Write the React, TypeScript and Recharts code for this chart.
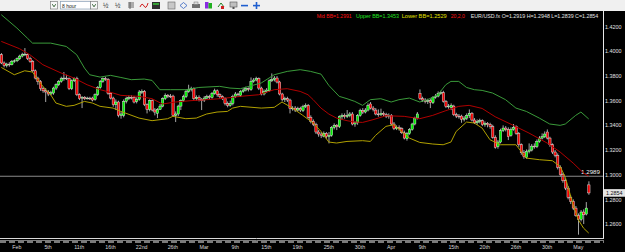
import React from 'react';
import { ComposedChart, Bar, Line, XAxis, YAxis, ReferenceLine } from 'recharts';

// EUR/USD.fx, 8 hour candles (late Jan - May 2010)
const opens = [
  1.3973, 1.3906, 1.3887, 1.3897, 1.3892, 1.3919, 1.3924, 1.3941, 1.3962, 1.3973,
  1.3973, 1.3941, 1.3919, 1.3843, 1.3784, 1.3757, 1.3698, 1.3681, 1.3671, 1.3655,
  1.3663, 1.3703, 1.3730, 1.3757, 1.3779, 1.3784, 1.3779, 1.3698, 1.3762, 1.3779,
  1.3649, 1.3622, 1.3628, 1.3617, 1.3622, 1.3622, 1.3611, 1.3649, 1.3708, 1.3757,
  1.3779, 1.3773, 1.3660, 1.3622, 1.3568, 1.3590, 1.3482, 1.3482, 1.3595, 1.3617,
  1.3628, 1.3628, 1.3595, 1.3611, 1.3671, 1.3676, 1.3568, 1.3530, 1.3601, 1.3525,
  1.3498, 1.3530, 1.3557, 1.3617, 1.3644, 1.3638, 1.3638, 1.3482, 1.3493, 1.3557,
  1.3601, 1.3633, 1.3676, 1.3692, 1.3698, 1.3617, 1.3628, 1.3611, 1.3606, 1.3622,
  1.3633, 1.3628, 1.3660, 1.3681, 1.3649, 1.3633, 1.3617, 1.3579, 1.3563, 1.3579,
  1.3633, 1.3655, 1.3644, 1.3676, 1.3687, 1.3698, 1.3692, 1.3757, 1.3768, 1.3779,
  1.3703, 1.3655, 1.3676, 1.3681, 1.3762, 1.3773, 1.3784, 1.3752, 1.3655, 1.3611,
  1.3617, 1.3606, 1.3536, 1.3541, 1.3525, 1.3536, 1.3520, 1.3552, 1.3563, 1.3466,
  1.3433, 1.3406, 1.3347, 1.3331, 1.3314, 1.3336, 1.3309, 1.3320, 1.3385, 1.3401,
  1.3390, 1.3471, 1.3482, 1.3471, 1.3482, 1.3493, 1.3412, 1.3422, 1.3482, 1.3520,
  1.3509, 1.3525, 1.3574, 1.3541, 1.3525, 1.3493, 1.3487, 1.3498, 1.3487, 1.3476,
  1.3482, 1.3412, 1.3374, 1.3385, 1.3374, 1.3341, 1.3293, 1.3336, 1.3368, 1.3412,
  1.3460, 1.3660, 1.3617, 1.3606, 1.3595, 1.3601, 1.3585, 1.3628, 1.3638, 1.3660,
  1.3665, 1.3595, 1.3552, 1.3547, 1.3557, 1.3487, 1.3476, 1.3476, 1.3449, 1.3460,
  1.3482, 1.3498, 1.3444, 1.3422, 1.3433, 1.3439, 1.3406, 1.3417, 1.3406, 1.3390,
  1.3304, 1.3228, 1.3266, 1.3358, 1.3379, 1.3368, 1.3320, 1.3368, 1.3390, 1.3336,
  1.3244, 1.3179, 1.3142, 1.3190, 1.3201, 1.3233, 1.3228, 1.3271, 1.3298, 1.3309,
  1.3347, 1.3298, 1.3244, 1.3185, 1.3158, 1.3061, 1.3001, 1.2953, 1.2893, 1.2818,
  1.2785, 1.2731, 1.2672, 1.2640, 1.2699, 1.2683, 1.2919,
];

const highs = [
  1.3986, 1.3919, 1.3908, 1.3913, 1.3930, 1.3935, 1.3951, 1.3973, 1.3989, 1.4027,
  1.3984, 1.3957, 1.3930, 1.3854, 1.3795, 1.3768, 1.3714, 1.3703, 1.3687, 1.3681,
  1.3714, 1.3741, 1.3768, 1.3795, 1.3833, 1.3811, 1.3789, 1.3773, 1.3789, 1.3795,
  1.3660, 1.3638, 1.3638, 1.3633, 1.3633, 1.3633, 1.3660, 1.3719, 1.3768, 1.3789,
  1.3795, 1.3784, 1.3671, 1.3633, 1.3611, 1.3601, 1.3514, 1.3611, 1.3633, 1.3644,
  1.3644, 1.3638, 1.3628, 1.3687, 1.3692, 1.3687, 1.3579, 1.3611, 1.3611, 1.3541,
  1.3541, 1.3574, 1.3628, 1.3660, 1.3655, 1.3655, 1.3649, 1.3514, 1.3568, 1.3611,
  1.3649, 1.3692, 1.3730, 1.3714, 1.3708, 1.3644, 1.3644, 1.3622, 1.3638, 1.3649,
  1.3649, 1.3671, 1.3698, 1.3692, 1.3660, 1.3644, 1.3628, 1.3595, 1.3601, 1.3649,
  1.3671, 1.3665, 1.3687, 1.3703, 1.3714, 1.3708, 1.3789, 1.3784, 1.3795, 1.3789,
  1.3714, 1.3692, 1.3703, 1.3773, 1.3822, 1.3800, 1.3800, 1.3762, 1.3665, 1.3633,
  1.3633, 1.3617, 1.3557, 1.3557, 1.3552, 1.3552, 1.3568, 1.3579, 1.3574, 1.3482,
  1.3449, 1.3422, 1.3363, 1.3347, 1.3352, 1.3347, 1.3347, 1.3395, 1.3417, 1.3412,
  1.3482, 1.3498, 1.3498, 1.3525, 1.3509, 1.3509, 1.3433, 1.3493, 1.3536, 1.3541,
  1.3541, 1.3579, 1.3590, 1.3557, 1.3541, 1.3530, 1.3536, 1.3514, 1.3503, 1.3498,
  1.3493, 1.3428, 1.3401, 1.3401, 1.3385, 1.3358, 1.3347, 1.3379, 1.3422, 1.3471,
  1.3509, 1.3692, 1.3633, 1.3622, 1.3617, 1.3617, 1.3638, 1.3655, 1.3676, 1.3681,
  1.3681, 1.3606, 1.3574, 1.3579, 1.3568, 1.3503, 1.3493, 1.3487, 1.3476, 1.3498,
  1.3530, 1.3509, 1.3460, 1.3449, 1.3455, 1.3449, 1.3433, 1.3428, 1.3422, 1.3406,
  1.3320, 1.3282, 1.3374, 1.3401, 1.3395, 1.3385, 1.3385, 1.3412, 1.3401, 1.3347,
  1.3255, 1.3201, 1.3206, 1.3255, 1.3250, 1.3255, 1.3287, 1.3314, 1.3336, 1.3352,
  1.3368, 1.3309, 1.3255, 1.3201, 1.3174, 1.3077, 1.3017, 1.2969, 1.2910, 1.2834,
  1.2802, 1.2748, 1.2688, 1.2715, 1.2721, 1.2780, 1.2948,
];

const lows = [
  1.3897, 1.3870, 1.3870, 1.3876, 1.3887, 1.3908, 1.3913, 1.3930, 1.3951, 1.3962,
  1.3930, 1.3908, 1.3833, 1.3773, 1.3730, 1.3681, 1.3665, 1.3590, 1.3638, 1.3644,
  1.3649, 1.3687, 1.3719, 1.3746, 1.3762, 1.3768, 1.3687, 1.3687, 1.3752, 1.3638,
  1.3606, 1.3541, 1.3606, 1.3611, 1.3606, 1.3595, 1.3601, 1.3638, 1.3698, 1.3746,
  1.3762, 1.3649, 1.3611, 1.3552, 1.3525, 1.3466, 1.3455, 1.3466, 1.3579, 1.3606,
  1.3611, 1.3579, 1.3579, 1.3601, 1.3655, 1.3557, 1.3498, 1.3514, 1.3514, 1.3482,
  1.3460, 1.3525, 1.3547, 1.3606, 1.3622, 1.3622, 1.3471, 1.3428, 1.3476, 1.3525,
  1.3590, 1.3622, 1.3665, 1.3676, 1.3606, 1.3601, 1.3595, 1.3525, 1.3590, 1.3611,
  1.3611, 1.3617, 1.3649, 1.3633, 1.3617, 1.3606, 1.3563, 1.3547, 1.3552, 1.3563,
  1.3622, 1.3633, 1.3633, 1.3665, 1.3676, 1.3676, 1.3681, 1.3746, 1.3757, 1.3687,
  1.3644, 1.3644, 1.3665, 1.3671, 1.3752, 1.3757, 1.3741, 1.3644, 1.3595, 1.3590,
  1.3590, 1.3498, 1.3520, 1.3509, 1.3514, 1.3509, 1.3509, 1.3541, 1.3455, 1.3417,
  1.3395, 1.3331, 1.3309, 1.3298, 1.3304, 1.3293, 1.3255, 1.3309, 1.3368, 1.3363,
  1.3379, 1.3444, 1.3455, 1.3460, 1.3466, 1.3401, 1.3390, 1.3406, 1.3471, 1.3493,
  1.3498, 1.3514, 1.3530, 1.3514, 1.3482, 1.3471, 1.3476, 1.3471, 1.3460, 1.3455,
  1.3401, 1.3363, 1.3363, 1.3358, 1.3331, 1.3287, 1.3277, 1.3325, 1.3358, 1.3401,
  1.3449, 1.3606, 1.3590, 1.3579, 1.3574, 1.3541, 1.3574, 1.3617, 1.3628, 1.3649,
  1.3585, 1.3541, 1.3536, 1.3525, 1.3476, 1.3460, 1.3455, 1.3422, 1.3433, 1.3444,
  1.3460, 1.3433, 1.3412, 1.3406, 1.3417, 1.3395, 1.3390, 1.3385, 1.3374, 1.3293,
  1.3212, 1.3212, 1.3255, 1.3347, 1.3352, 1.3282, 1.3309, 1.3358, 1.3325, 1.3228,
  1.3163, 1.3131, 1.3131, 1.3174, 1.3190, 1.3212, 1.3217, 1.3260, 1.3287, 1.3298,
  1.3287, 1.3228, 1.3169, 1.3142, 1.3044, 1.2985, 1.2937, 1.2877, 1.2802, 1.2764,
  1.2715, 1.2661, 1.2516, 1.2623, 1.2602, 1.2672, 1.2839,
];

const closes = [
  1.3906, 1.3887, 1.3897, 1.3892, 1.3919, 1.3924, 1.3941, 1.3962, 1.3973, 1.3978,
  1.3941, 1.3919, 1.3843, 1.3784, 1.3757, 1.3698, 1.3681, 1.3671, 1.3655, 1.3665,
  1.3703, 1.3730, 1.3757, 1.3779, 1.3784, 1.3779, 1.3698, 1.3762, 1.3779, 1.3649,
  1.3617, 1.3628, 1.3617, 1.3622, 1.3617, 1.3606, 1.3649, 1.3708, 1.3757, 1.3779,
  1.3773, 1.3660, 1.3622, 1.3568, 1.3590, 1.3482, 1.3493, 1.3595, 1.3617, 1.3628,
  1.3622, 1.3590, 1.3611, 1.3671, 1.3676, 1.3568, 1.3530, 1.3601, 1.3525, 1.3509,
  1.3530, 1.3557, 1.3617, 1.3644, 1.3638, 1.3633, 1.3482, 1.3493, 1.3557, 1.3601,
  1.3633, 1.3676, 1.3692, 1.3698, 1.3617, 1.3628, 1.3611, 1.3601, 1.3622, 1.3633,
  1.3628, 1.3660, 1.3681, 1.3649, 1.3633, 1.3617, 1.3579, 1.3563, 1.3579, 1.3633,
  1.3655, 1.3649, 1.3676, 1.3687, 1.3698, 1.3692, 1.3757, 1.3768, 1.3779, 1.3703,
  1.3655, 1.3676, 1.3687, 1.3762, 1.3773, 1.3784, 1.3752, 1.3655, 1.3611, 1.3617,
  1.3606, 1.3536, 1.3541, 1.3525, 1.3536, 1.3525, 1.3552, 1.3563, 1.3466, 1.3433,
  1.3406, 1.3347, 1.3331, 1.3320, 1.3336, 1.3309, 1.3320, 1.3385, 1.3401, 1.3390,
  1.3471, 1.3482, 1.3471, 1.3482, 1.3493, 1.3412, 1.3422, 1.3482, 1.3520, 1.3509,
  1.3525, 1.3563, 1.3541, 1.3530, 1.3493, 1.3487, 1.3498, 1.3487, 1.3476, 1.3482,
  1.3412, 1.3374, 1.3385, 1.3374, 1.3341, 1.3298, 1.3336, 1.3368, 1.3412, 1.3460,
  1.3493, 1.3617, 1.3606, 1.3595, 1.3601, 1.3585, 1.3628, 1.3638, 1.3660, 1.3665,
  1.3595, 1.3552, 1.3557, 1.3563, 1.3487, 1.3476, 1.3471, 1.3449, 1.3460, 1.3482,
  1.3498, 1.3444, 1.3422, 1.3433, 1.3439, 1.3406, 1.3417, 1.3406, 1.3390, 1.3304,
  1.3223, 1.3266, 1.3358, 1.3379, 1.3368, 1.3309, 1.3368, 1.3385, 1.3336, 1.3244,
  1.3179, 1.3147, 1.3190, 1.3201, 1.3233, 1.3228, 1.3271, 1.3298, 1.3309, 1.3331,
  1.3298, 1.3244, 1.3185, 1.3158, 1.3061, 1.3001, 1.2953, 1.2893, 1.2818, 1.2785,
  1.2731, 1.2672, 1.2640, 1.2699, 1.2677, 1.2731, 1.2854,
];

// Bollinger band readings: [bar index, price]
const upperBand: [number, number][] = [
  [0, 1.4297], [3, 1.4243], [6, 1.4189], [10, 1.4108], [12, 1.4067], [19, 1.4067], [25, 1.404],
  [29, 1.3973], [32, 1.3865], [34, 1.3811], [38, 1.3792], [42, 1.3806], [46, 1.3789], [50, 1.3771],
  [55, 1.3776], [58, 1.3765], [61, 1.369], [65, 1.369], [71, 1.369], [76, 1.3708], [84, 1.3717],
  [88, 1.3703], [92, 1.3698], [100, 1.3744], [105, 1.3811], [110, 1.3838], [115, 1.3852],
  [119, 1.3838], [123, 1.3816], [126, 1.3725], [130, 1.3636], [133, 1.3617], [136, 1.3595],
  [139, 1.3563], [142, 1.3609], [146, 1.3617], [150, 1.359], [153, 1.3609], [157, 1.3622],
  [161, 1.359], [164, 1.3609], [168, 1.3649], [171, 1.373], [173, 1.3757], [176, 1.3757],
  [179, 1.3708], [182, 1.369], [185, 1.3684], [189, 1.3663], [194, 1.3609], [198, 1.3541],
  [202, 1.3514], [207, 1.346], [211, 1.3412], [215, 1.3401], [217, 1.3412], [221, 1.3482],
  [223, 1.3509], [226, 1.3453],
];
const midBand: [number, number][] = [
  [0, 1.4081], [7, 1.4022], [11, 1.3973], [16, 1.3892], [23, 1.3825], [28, 1.3784], [33, 1.373],
  [38, 1.369], [43, 1.3663], [46, 1.3644], [53, 1.3636], [58, 1.3617], [62, 1.3574], [67, 1.359],
  [73, 1.3601], [79, 1.3609], [84, 1.3617], [89, 1.3628], [92, 1.3636], [99, 1.3649], [105, 1.369],
  [110, 1.3698], [115, 1.3676], [118, 1.3649], [120, 1.3609], [123, 1.3541], [126, 1.3493],
  [129, 1.346], [133, 1.3439], [136, 1.3428], [139, 1.3425], [143, 1.3447], [148, 1.3479],
  [155, 1.3474], [161, 1.3455], [166, 1.3482], [171, 1.352], [176, 1.3555], [180, 1.3563],
  [185, 1.3538], [190, 1.3471], [197, 1.3401], [203, 1.3339], [210, 1.3258], [215, 1.3185],
  [220, 1.3096], [224, 1.3015], [226, 1.2991],
];
const lowerBand: [number, number][] = [
  [0, 1.387], [5, 1.3811], [9, 1.3843], [12, 1.3833], [16, 1.3717], [19, 1.3649], [21, 1.3582],
  [25, 1.3555], [28, 1.3563], [32, 1.3595], [35, 1.3582], [38, 1.3555], [43, 1.3541], [46, 1.3514],
  [53, 1.346], [58, 1.3439], [64, 1.3455], [66, 1.3474], [71, 1.3455], [75, 1.346], [79, 1.3493],
  [83, 1.3509], [87, 1.3514], [89, 1.3541], [92, 1.3555], [100, 1.3541], [105, 1.3547],
  [108, 1.359], [112, 1.3541], [116, 1.3482], [120, 1.342], [123, 1.3352], [126, 1.3266],
  [129, 1.3258], [133, 1.3271], [139, 1.3277], [142, 1.3271], [144, 1.332], [148, 1.3393],
  [151, 1.3406], [157, 1.3298], [161, 1.3263], [166, 1.325], [170, 1.3244], [173, 1.3266],
  [175, 1.3352], [179, 1.3428], [182, 1.342], [185, 1.3379], [188, 1.3285], [192, 1.3244],
  [198, 1.3244], [202, 1.3136], [207, 1.3123], [212, 1.3115], [215, 1.3069], [217, 1.298],
  [220, 1.2758], [222, 1.2637], [224, 1.2569], [226, 1.2529],
];

const tickBars = [6, 18, 30, 42, 54, 66, 78, 90, 102, 114, 126, 138, 150, 162, 174, 186, 198, 210, 222];
const tickLabels = ['Feb', '5th', '11th', '16th', '22nd', '26th', 'Mar', '9th', '15th', '19th', '25th', '30th', 'Apr', '9th', '15th', '20th', '26th', '30th', 'May'];
const priceTicks = [1.26, 1.28, 1.3, 1.32, 1.34, 1.36, 1.38, 1.4, 1.42];
const lineLevel = 1.2989;
const symbol = 'EUR/USD.fx';
const bbParams = '20,2,0';
const timeframe = '8 hour';

const SLOTS = 232;
const FONT = '"Liberation Sans", Arial, sans-serif';

const rows: any[] = Array.from({ length: SLOTS }, (_, i) => {
  const r: any = { i };
  if (i < opens.length) {
    r.o = opens[i]; r.h = highs[i]; r.l = lows[i]; r.c = closes[i];
    r.range = [lows[i], highs[i]];
  }
  return r;
});
upperBand.forEach(([i, v]) => { rows[i].upper = v; });
midBand.forEach(([i, v]) => { rows[i].mid = v; });
lowerBand.forEach(([i, v]) => { rows[i].lower = v; });

const last = opens.length - 1;
const f4 = (v: number) => v.toFixed(4);

const Candle = (props: any) => {
  const { x, y, width, height, payload } = props;
  if (!payload || payload.o == null || !isFinite(y) || !isFinite(height)) return <g />;
  const { o, h, l, c } = payload;
  const top = Math.min(y, y + height);
  const span = Math.abs(height);
  const py = (p: number) => (h === l ? top : top + ((h - p) / (h - l)) * span);
  const cx = x + width / 2;
  const yo = py(o);
  const yc = py(c);
  const bt = Math.min(yo, yc);
  const bh = Math.max(Math.abs(yc - yo), 0.8);
  const doji = Math.abs(c - o) < 0.0004;
  const fill = doji ? '#f0f0f0' : c > o ? '#00f000' : '#f00000';
  const bw = 2.3;
  return (
    <g>
      <line x1={cx} x2={cx} y1={top} y2={top + span} stroke="#b8b8b8" strokeWidth={0.9} />
      <rect x={cx - bw / 2} y={bt} width={bw} height={bh} fill={fill} stroke="#e8e8e8" strokeWidth={0.45} />
    </g>
  );
};

const YTick = (props: any) => {
  const { y, payload } = props;
  return (
    <text x={605} y={y + 2} fill="#e0e0e0" fontSize={5.6} fontFamily={FONT} textLength={16.5} lengthAdjust="spacingAndGlyphs">
      {f4(payload.value)}
    </text>
  );
};

const XTick = (props: any) => {
  const { x, payload } = props;
  const k = tickBars.indexOf(payload.value);
  return (
    <text x={x} y={249.2} textAnchor="middle" fill="#d8d8d8" fontSize={5.3} fontFamily={FONT}>
      {k >= 0 ? tickLabels[k] : ''}
    </text>
  );
};

const LevelLabel = (props: any) => {
  const vb = props.viewBox || {};
  return (
    <text x={(vb.x || 0) + (vb.width || 0) - 3} y={(vb.y || 0) - 2.5} textAnchor="end" fill="#f4f4f4" fontSize={6.2} fontFamily={FONT} textLength={19} lengthAdjust="spacingAndGlyphs">
      {f4(lineLevel)}
    </text>
  );
};

const PriceTag = (props: any) => {
  const vb = props.viewBox || {};
  const yy = vb.y || 0;
  const xx = (vb.x || 0) + (vb.width || 0) + 1;
  return (
    <g>
      <rect x={xx} y={yy - 3.8} width={21} height={7.6} fill="#e4e4e4" />
      <text x={xx + 2} y={yy + 2} fill="#111" fontSize={5.6} fontFamily={FONT} textLength={16.5} lengthAdjust="spacingAndGlyphs">
        {f4(closes[last])}
      </text>
    </g>
  );
};

const Toolbar = () => (
  <g>
    <rect x={0} y={0} width={625} height={11} fill="#f0f0f0" />
    <rect x={50.5} y={1.5} width={7} height={7.5} fill="#f7f7f7" stroke="#808080" strokeWidth={0.7} />
    <path d="M52.3 4.2 L54 6.8 L55.7 4.2" fill="none" stroke="#2a5a2a" strokeWidth={0.9} />
    <rect x={60.5} y={1.5} width={30} height={7.5} fill="#ffffff" stroke="#8aa0b8" strokeWidth={0.7} />
    <text x={62} y={7.6} fontSize={5} fontFamily={FONT} fill="#222">{timeframe}</text>
    <rect x={90.5} y={1.5} width={7} height={7.5} fill="#f7f7f7" stroke="#808080" strokeWidth={0.7} />
    <path d="M92.3 4.2 L94 6.8 L95.7 4.2" fill="none" stroke="#2a5a2a" strokeWidth={0.9} />
    <text x={103} y={8} fontSize={6.5} fontFamily={FONT} fill="#333">½</text>
    <text x={115} y={8} fontSize={6.5} fontFamily={FONT} fill="#333">½</text>
    <path d="M128 3 H134 M128 5 H134 M128 7 H134 M130 2 V9" stroke="#444" strokeWidth={0.8} />
    <path d="M140 7 Q142 2 144 6 T148 3" fill="none" stroke="#d02020" strokeWidth={1} />
    <rect x={152} y={2} width={8} height={7} fill="#2e2e2e" />
    <rect x={153} y={3} width={6} height={2} fill="#35a035" />
    <rect x={168} y={2} width={7} height={7} fill="#c8c8c8" stroke="#666" strokeWidth={0.6} />
    <path d="M180 5.5 L183.5 2.5 L187 5.5 L183.5 8.5 Z" fill="none" stroke="#3060c0" strokeWidth={0.8} />
    <rect x={192} y={4} width={8} height={4} fill="#707070" />
    <rect x={194} y={2} width={4} height={2.5} fill="#e0e0e0" stroke="#555" strokeWidth={0.4} />
    <rect x={205} y={2} width={3.5} height={6.5} fill="#8a2be2" />
    <rect x={208.5} y={3} width={3.5} height={5.5} fill="#20b020" />
    <path d="M218 7 L221 3 L224 7" fill="none" stroke="#208020" strokeWidth={1} />
    <rect x={221} y={6} width={3} height={3} fill="#d02020" />
    <rect x={230} y={2} width={7} height={5} fill="#c0c0c0" stroke="#555" strokeWidth={0.6} />
    <rect x={232.5} y={7} width={2} height={2} fill="#555" />
    <rect x={241} y={4.8} width={7} height={1.6} fill="#1f5fd0" />
    <rect x={253} y={4.8} width={7} height={1.6} fill="#1f5fd0" />
    <rect x={255.7} y={2} width={1.6} height={7} fill="#1f5fd0" />
  </g>
);

const legendItems = [
  { text: `Mid BB=${f4(midBand[midBand.length - 1][1])}`, color: '#ff1010', x: 316.7, w: 35 },
  { text: `Upper BB=${f4(upperBand[upperBand.length - 1][1])}`, color: '#20e020', x: 356, w: 43 },
  { text: `Lower BB=${f4(lowerBand[lowerBand.length - 1][1])}`, color: '#e0e000', x: 401.7, w: 45 },
  { text: bbParams, color: '#ff1010', x: 450.7, w: 14.3 },
  { text: `${symbol} O=${f4(opens[last])} H=${f4(highs[last])} L=${f4(lows[last])} C=${f4(closes[last])}`, color: '#e4e4e4', x: 470.7, w: 127.6 },
];

export default function App() {
  return (
    <div style={{ position: 'absolute', left: 0, top: 0, width: 625, height: 252, background: '#000', overflow: 'hidden' }}>
      <ComposedChart
        width={625}
        height={252}
        data={rows}
        margin={{ top: 12, right: 0, left: 0, bottom: 0 }}
        barCategoryGap={0}
        barGap={0}
      >
        <XAxis
          dataKey="i"
          type="category"
          ticks={tickBars}
          interval={0}
          height={14}
          axisLine={false}
          tickLine={false}
          tick={<XTick />}
        />
        <YAxis
          orientation="right"
          width={22}
          domain={[1.2489, 1.4319]}
          allowDataOverflow
          ticks={priceTicks}
          axisLine={false}
          tickLine={false}
          tick={<YTick />}
        />
        <ReferenceLine y={lineLevel} stroke="#8a8a8a" strokeWidth={1.2} label={<LevelLabel />} />
        <ReferenceLine y={closes[last]} stroke="none" label={<PriceTag />} />
        <Bar dataKey="range" isAnimationActive={false} shape={(p: any) => <Candle {...p} />} />
        <Line dataKey="upper" stroke="#3a9a3a" strokeWidth={1} dot={false} connectNulls isAnimationActive={false} />
        <Line dataKey="mid" stroke="#b00000" strokeWidth={1} dot={false} connectNulls isAnimationActive={false} />
        <Line dataKey="lower" stroke="#b0a000" strokeWidth={1} dot={false} connectNulls isAnimationActive={false} />
      </ComposedChart>
      <svg width={625} height={252} style={{ position: 'absolute', left: 0, top: 0, pointerEvents: 'none' }}>
        <Toolbar />
        {legendItems.map((it) => (
          <text key={it.text} x={it.x} y={18} fill={it.color} fontSize={5.2} fontFamily={FONT} textLength={it.w} lengthAdjust="spacingAndGlyphs">
            {it.text}
          </text>
        ))}
        <line x1={603.5} x2={603.5} y1={11} y2={238.5} stroke="#e8e8e8" strokeWidth={1} />
        <line x1={0} x2={604} y1={238.5} y2={238.5} stroke="#d8d8d8" strokeWidth={1} />
        <line x1={0} x2={604} y1={240.5} y2={240.5} stroke="#9a9a9a" strokeWidth={0.8} />
        <line x1={0} x2={604} y1={242} y2={242} stroke="#f4f4f4" strokeWidth={1} strokeDasharray="6 3" />
      </svg>
    </div>
  );
}
